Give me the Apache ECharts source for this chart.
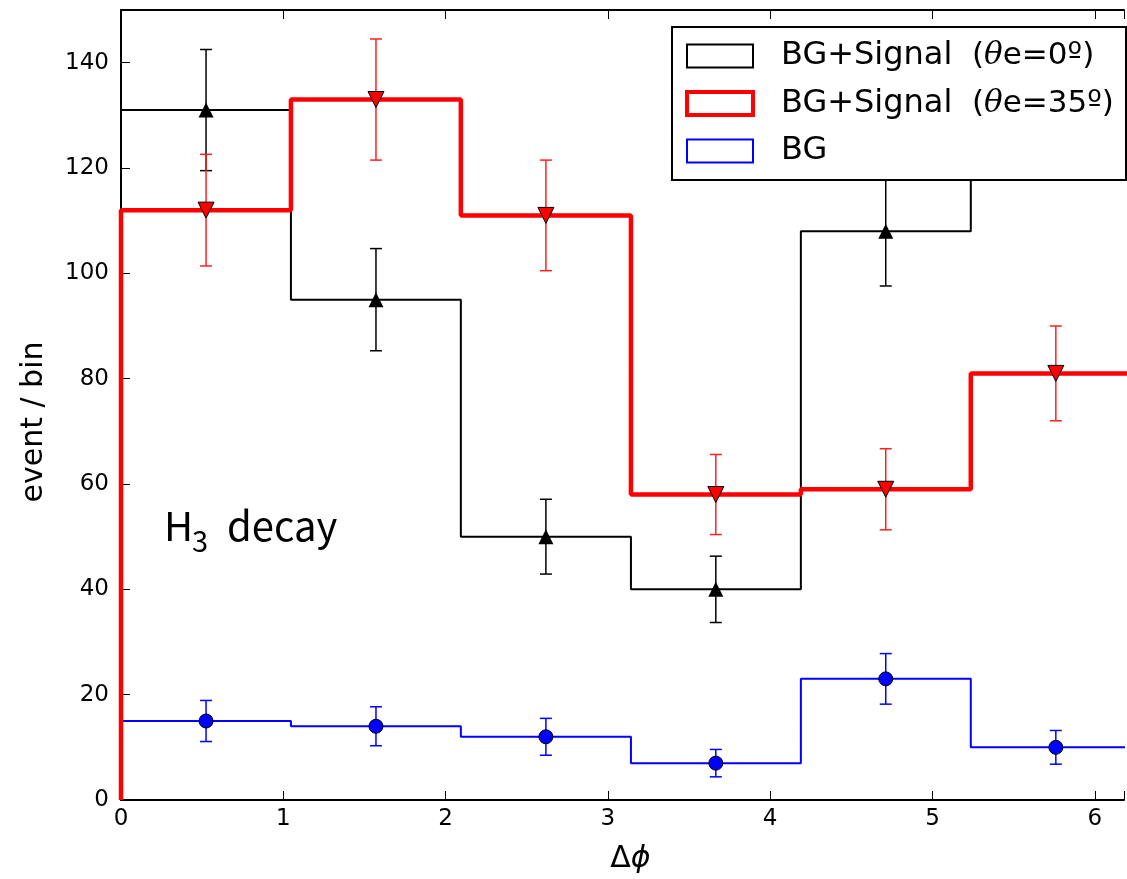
<!DOCTYPE html>
<html>
<head>
<meta charset="utf-8">
<script src="https://cdn.jsdelivr.net/npm/echarts@6/dist/echarts.min.js"></script>
<style>
  html, body { margin: 0; padding: 0; background: #fff; }
  #main { width: 1127px; height: 879px; }
</style>
</head>
<body>
<div id="main"></div>
<script>
// bin edges / centres of the Δφ histogram (6 bins over 0..2π)
const binEdges = [0, 1.047, 2.094, 3.142, 4.189, 5.236, 6.283];
const binCenters = [0.524, 1.571, 2.618, 3.665, 4.712, 5.760];

// BG+Signal (θe=0º)  -- last bin sits behind the legend box
const sig0 = [131, 95, 50, 40, 108, 135];
const sig0Err = [11.5, 9.7, 7.1, 6.3, 10.4, 11.6];
// BG+Signal (θe=35º)
const sig35 = [112, 133, 111, 58, 59, 81];
const sig35Err = [10.6, 11.5, 10.5, 7.6, 7.7, 9.0];
// BG only
const bg = [15, 14, 12, 7, 23, 10];
const bgErr = [3.9, 3.7, 3.5, 2.6, 4.8, 3.2];

const xTicks = [0, 1, 2, 3, 4, 5, 6];
const yTicks = [0, 20, 40, 60, 80, 100, 120, 140];

const names = ['BG+Signal (θe=0º)', 'BG+Signal (θe=35º)', 'BG'];
const legendText = {
  'BG+Signal (θe=0º)': '{a|BG+Signal}{b|  (}{c|θ}{b|e=0º)}',
  'BG+Signal (θe=35º)': '{a|BG+Signal}{b|  (}{c|θ}{b|e=35º)}',
  'BG': '{a|BG}'
};

// histogram outline: start at 0, one point per left edge, close at right edge
function stepData(vals) {
  let pts = [[binEdges[0], 0]];
  vals.forEach(function (v, i) { pts.push([binEdges[i], v]); });
  pts.push([binEdges[binEdges.length - 1], vals[vals.length - 1]]);
  pts.push([binEdges[binEdges.length - 1], 0]);
  return pts;
}
function errData(vals, errs) {
  return vals.map(function (v, i) { return [binCenters[i], v - errs[i], v + errs[i]]; });
}
function pointData(vals) {
  return vals.map(function (v, i) { return [binCenters[i], v]; });
}

function errSeries(data, color) {
  return {
    type: 'custom',
    z: 4,
    data: data,
    encode: { x: 0, y: [1, 2] },
    silent: true,
    renderItem: function (params, api) {
      let x = api.value(0);
      let lo = api.coord([x, api.value(1)]);
      let hi = api.coord([x, api.value(2)]);
      let w = 6;
      let st = { stroke: color, lineWidth: 1.5 };
      return {
        type: 'group',
        children: [
          { type: 'line', shape: { x1: lo[0], y1: lo[1], x2: hi[0], y2: hi[1] }, style: st },
          { type: 'line', shape: { x1: lo[0] - w, y1: lo[1], x2: lo[0] + w, y2: lo[1] }, style: st },
          { type: 'line', shape: { x1: hi[0] - w, y1: hi[1], x2: hi[0] + w, y2: hi[1] }, style: st }
        ]
      };
    }
  };
}

let myChart = echarts.init(document.getElementById('main'));

let tickFont = { fontFamily: 'DejaVu Sans', fontSize: 23, color: '#000' };

let option = {
  animation: false,
  backgroundColor: '#fff',
  // the original figure is cropped on the right, just past Δφ = 6.18
  grid: { left: 121, top: 10, right: 0, bottom: 77, containLabel: false },
  xAxis: [
    {
      type: 'value', min: 0, max: 6.18, interval: 1,
      name: '{d|Δ}{p|ϕ}', nameLocation: 'middle', nameGap: 44,
      nameTextStyle: {
        color: '#000', padding: [0, 0, 0, 16],
        rich: {
          d: { fontFamily: 'DejaVu Sans', fontSize: 30, color: '#000' },
          p: { fontFamily: 'DejaVu Sans', fontStyle: 'italic', fontSize: 30, color: '#000' }
        }
      },
      axisLine: { lineStyle: { color: '#000', width: 2 } },
      axisTick: { inside: true, length: 9, lineStyle: { color: '#000', width: 1 } },
      axisLabel: Object.assign({
        margin: 8,
        formatter: function (v) { return xTicks.indexOf(v) >= 0 ? String(v) : ''; }
      }, tickFont),
      splitLine: { show: false }
    },
    {
      type: 'value', position: 'top', min: 0, max: 6.18, interval: 1,
      axisLine: { lineStyle: { color: '#000', width: 2 } },
      axisTick: { inside: true, length: 9, lineStyle: { color: '#000', width: 1 } },
      axisLabel: { show: false },
      splitLine: { show: false }
    }
  ],
  yAxis: {
    type: 'value', min: 0, max: 150, interval: 20,
    name: 'event / bin', nameLocation: 'middle', nameGap: 72,
    nameTextStyle: { fontFamily: 'DejaVu Sans', fontSize: 30, color: '#000', padding: [0, 34, 0, 0] },
    axisLine: { lineStyle: { color: '#000', width: 2 } },
    axisTick: { inside: true, length: 9, lineStyle: { color: '#000', width: 1 } },
    axisLabel: Object.assign({
      margin: 12,
      formatter: function (v) { return yTicks.indexOf(v) >= 0 ? String(v) : ''; }
    }, tickFont),
    splitLine: { show: false }
  },
  legend: {
    orient: 'vertical',
    left: 685, top: 40,
    z: 20,
    padding: 0,
    itemWidth: 66, itemHeight: 23, itemGap: 15.5,
    selectedMode: false,
    formatter: function (name) { return legendText[name]; },
    textStyle: {
      color: '#000',
      rich: {
        a: { fontFamily: 'DejaVu Sans', fontSize: 32, padding: [0, 0, 0, 23], lineHeight: 24 },
        b: { fontFamily: 'DejaVu Sans', fontSize: 31, lineHeight: 24 },
        c: { fontFamily: 'DejaVu Serif', fontStyle: 'italic', fontSize: 31, lineHeight: 24 }
      }
    },
    data: [
      { name: names[0], icon: 'rect', itemStyle: { color: '#fff', borderColor: '#000', borderWidth: 2 } },
      { name: names[1], icon: 'rect', itemStyle: { color: '#fff', borderColor: '#ff0000', borderWidth: 4 } },
      { name: names[2], icon: 'rect', itemStyle: { color: '#fff', borderColor: '#0000ff', borderWidth: 2 } }
    ]
  },
  graphic: [
    {
      type: 'rect', z: 15, silent: true,
      shape: { x: 672, y: 27, width: 454, height: 153 },
      style: { fill: '#fff', stroke: '#000', lineWidth: 2 }
    },
    { type: 'text', left: 164, top: 506, silent: true,
      style: { text: 'H', font: '40px "Noto Sans CJK JP"', fill: '#000' } },
    { type: 'text', left: 192, top: 526, silent: true,
      style: { text: '3', font: '29px "Noto Sans CJK JP"', fill: '#000' } },
    { type: 'text', left: 227, top: 506, silent: true,
      style: { text: 'decay', font: '40px "Noto Sans CJK JP"', fill: '#000' } }
  ],
  series: [
    {
      name: names[2], type: 'line', step: 'end', z: 3, symbol: 'none',
      data: stepData(bg),
      lineStyle: { color: '#0000ff', width: 2 }, itemStyle: { color: '#0000ff' }
    },
    {
      name: names[0], type: 'line', step: 'end', z: 3, symbol: 'none',
      data: stepData(sig0),
      lineStyle: { color: '#000', width: 2 }, itemStyle: { color: '#000' }
    },
    {
      name: names[1], type: 'line', step: 'end', z: 3, symbol: 'none',
      data: stepData(sig35),
      lineStyle: { color: '#ff0000', width: 4.5 }, itemStyle: { color: '#ff0000' }
    },
    errSeries(errData(sig0, sig0Err), '#000'),
    errSeries(errData(sig35, sig35Err), '#ff2020'),
    errSeries(errData(bg, bgErr), '#0000ff'),
    {
      name: 'sig0 points', type: 'scatter', z: 5, symbol: 'triangle', symbolSize: 15,
      data: pointData(sig0),
      itemStyle: { color: '#000', opacity: 1 }
    },
    {
      name: 'sig35 points', type: 'scatter', z: 5, symbol: 'triangle', symbolRotate: 180, symbolSize: 16,
      data: pointData(sig35),
      itemStyle: { color: '#ff0000', borderColor: '#000', borderWidth: 1, opacity: 1 }
    },
    {
      name: 'bg points', type: 'scatter', z: 5, symbol: 'circle', symbolSize: 14,
      data: pointData(bg),
      itemStyle: { color: '#0000ff', borderColor: '#000', borderWidth: 1, opacity: 1 }
    }
  ]
};

myChart.setOption(option);
</script>
</body>
</html>
